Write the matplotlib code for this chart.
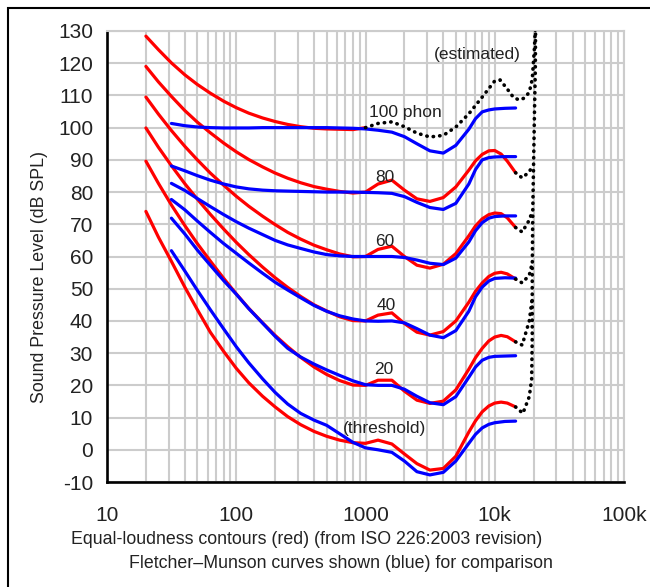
import matplotlib
matplotlib.use("Agg")
import matplotlib.pyplot as plt
from matplotlib.ticker import LogLocator, NullFormatter, FixedLocator
from matplotlib.patches import Rectangle

plt.rcParams['font.family'] = ['Liberation Sans', 'DejaVu Sans']
plt.rcParams['axes.unicode_minus'] = False

# frequencies (Hz)
iso_freq = [20, 25, 31.5, 40, 50, 63, 80, 100, 125, 160, 200, 250, 315, 400, 500,
            630, 800, 1000, 1250, 1600, 2000, 2500, 3150, 4000, 5000, 6300, 7100, 8000,
            9000, 10000, 11200, 12500, 14500]
fm_freq = [31.5, 40, 50, 63, 80, 100, 125, 160, 200, 250, 315, 400, 500, 630, 800,
           1000, 1250, 1600, 2000, 2500, 3150, 4000, 5000, 6300, 7100, 8000, 9000, 10000,
           12000, 14500]

# equal-loudness contours (red), dB SPL
red_0 = [74.0, 66.0, 58.5, 50.5, 43.5, 36.5, 30.5, 25.3, 20.8, 16.6, 13.3, 10.3, 7.8, 5.7,
         4.2, 3.0, 2.2, 2.0, 3.0, 1.8, -1.3, -4.3, -6.3, -5.8, -2.0, 5.5, 9.0, 11.8,
         13.6, 14.5, 14.8, 14.5, 13.3]
red_20 = [89.6, 82.7, 76.0, 69.6, 64.0, 58.6, 53.2, 48.4, 43.9, 39.4, 35.5, 32.0, 28.7, 25.7,
          23.4, 21.5, 20.1, 20.0, 21.6, 21.6, 18.2, 15.4, 14.4, 15.1, 18.6, 25.0, 28.6, 31.5,
          33.8, 35.0, 35.5, 35.1, 33.5]
red_40 = [99.9, 93.9, 88.2, 82.6, 77.8, 73.1, 68.5, 64.4, 60.6, 56.7, 53.4, 50.4, 47.6, 45.0,
          43.1, 41.3, 40.1, 40.0, 41.8, 42.5, 39.2, 36.5, 35.6, 36.7, 40.0, 45.8, 49.2, 51.8,
          53.8, 54.8, 55.1, 54.6, 53.0]
red_60 = [109.5, 104.2, 99.1, 94.2, 90.0, 85.9, 82.1, 78.7, 75.6, 72.5, 69.9, 67.5, 65.4, 63.5,
          62.1, 60.8, 59.9, 60.0, 62.2, 63.2, 60.0, 57.3, 56.4, 57.6, 60.9, 66.4, 69.5, 71.7,
          73.0, 73.5, 73.3, 72.0, 69.0]
red_80 = [119.0, 114.2, 109.7, 105.3, 101.7, 98.4, 95.2, 92.5, 90.1, 87.8, 85.9, 84.3, 82.9, 81.7,
          80.9, 80.2, 79.7, 80.0, 82.5, 83.7, 80.6, 77.9, 77.1, 78.3, 81.6, 86.8, 89.7, 91.7,
          92.8, 92.9, 91.8, 89.6, 86.0]
red_100 = [128.4, 124.2, 120.1, 116.4, 113.4, 110.7, 108.2, 106.2, 104.5, 103.0, 101.9, 101.0,
           100.3, 99.8, 99.6, 99.5, 99.4, 100.0]

# Fletcher-Munson curves (blue), dB SPL
blue_0 = [61.8, 55.5, 49.5, 43.5, 37.5, 32.0, 27.0, 22.0, 17.8, 14.2, 11.3, 9.2, 7.6, 5.0, 2.3,
          0.6, 0.0, -0.8, -3.5, -6.8, -7.8, -7.0, -3.5, 2.0, 4.8, 6.8, 7.9, 8.4, 8.8, 8.9]
blue_20 = [71.9, 67.0, 62.0, 57.3, 52.5, 48.3, 43.8, 39.3, 35.2, 31.5, 28.8, 26.6, 24.8, 23.1,
           21.4, 20.2, 20.0, 20.0, 18.8, 16.6, 14.6, 14.0, 16.5, 22.5, 25.7, 27.8, 28.7, 29.0,
           29.1, 29.2]
blue_40 = [77.7, 74.5, 71.0, 67.5, 64.0, 61.0, 58.0, 54.8, 52.0, 49.6, 47.2, 44.8, 43.0, 41.6,
           40.6, 40.0, 39.9, 40.0, 39.4, 37.6, 35.6, 34.8, 37.0, 43.0, 47.5, 50.5, 52.4, 53.2,
           53.4, 53.3]
blue_60 = [82.7, 80.5, 78.0, 75.5, 73.0, 70.8, 68.8, 66.8, 65.0, 63.6, 62.5, 61.4, 60.6, 60.2,
           60.0, 60.0, 60.0, 60.0, 59.7, 58.9, 57.9, 57.5, 59.5, 64.5, 68.0, 70.5, 71.9, 72.4,
           72.6, 72.6]
blue_80 = [88.1, 86.6, 85.1, 83.7, 82.5, 81.6, 81.0, 80.6, 80.4, 80.3, 80.2, 80.1, 80.0, 80.0,
           80.0, 79.9, 79.8, 79.6, 78.6, 76.8, 75.2, 74.6, 76.5, 82.5, 87.0, 90.0, 90.7, 90.9,
           91.0, 91.0]
blue_100 = [101.3, 100.6, 100.2, 100.0, 99.9, 99.9, 99.9, 100.0, 100.0, 100.0, 100.0, 100.0,
            100.0, 99.9, 99.8, 99.6, 99.2, 98.6, 97.2, 95.0, 92.8, 92.1, 94.5, 99.5, 102.8,
            104.9, 105.5, 105.8, 106.0, 106.1]

# estimated parts (black dotted)
est_freq = [1000, 1250, 1600, 2000, 2500, 3150, 4000, 5000, 6300, 8000, 10000, 11000, 12500,
            14000, 15500, 17000, 18500, 19500, 20300, 20600]
est_spl = [100.0, 101.3, 101.8, 100.3, 98.3, 97.1, 97.6, 100.2, 104.3, 109.5, 114.5, 114.8,
           112.0, 109.3, 108.6, 109.2, 111.0, 115.0, 125.0, 131.0]
edge_freq = [14500, 16500, 18500, 19300, 19500, 19500, 19700, 20000, 20300, 20600, 20700]
edge_spl = [13.3, 11.3, 16.5, 22.0, 35.0, 55.0, 75.0, 90.0, 105.0, 118.0, 131.0]
link_freq = [14500, 16300, 18500, 19500]
link_20 = [33.5, 32.5, 40.0, 47.0]
link_40 = [53.0, 51.8, 54.2, 58.0]
link_60 = [69.0, 67.6, 71.3, 74.0]
link_80 = [86.0, 84.4, 86.3, 88.0]

labels = [("100 phon", 405, 112), ("80", 385, 177), ("60", 385, 241), ("40", 386, 305),
          ("20", 384, 370), ("(threshold)", 385, 428), ("(estimated)", 477, 55)]

W, H = 650, 587
fig = plt.figure(figsize=(6.5, 5.87), dpi=100)
ax = fig.add_axes([107 / W, 1 - 482 / H, (624 - 107) / W, (482 - 31) / H])

for c in [red_0, red_20, red_40, red_60, red_80]:
    ax.plot(iso_freq, c, color='#ff0000', lw=2.3, solid_joinstyle='round',
            solid_capstyle='round', zorder=3)
ax.plot(iso_freq[:len(red_100)], red_100, color='#ff0000', lw=2.3,
        solid_joinstyle='round', solid_capstyle='round', zorder=3)

for c in [blue_0, blue_20, blue_40, blue_60, blue_80, blue_100]:
    ax.plot(fm_freq, c, color='#0000ff', lw=2.3, solid_joinstyle='round',
            solid_capstyle='round', zorder=4)

dot = dict(color='black', lw=2.6, linestyle=(0, (0.1, 1.7)), dash_capstyle='round', zorder=5)
ax.plot(est_freq, est_spl, **dot)
ax.plot(edge_freq, edge_spl, **dot)
for c in [link_20, link_40, link_60, link_80]:
    ax.plot(link_freq, c, **dot)

ax.set_xscale('log')
ax.set_xlim(10, 100000)
ax.set_ylim(-10, 130)
ax.set_yticks(range(-10, 131, 10))
ax.xaxis.set_major_locator(FixedLocator([10, 100, 1000, 10000, 100000]))
ax.set_xticklabels(['10', '100', '1000', '10k', '100k'])
ax.xaxis.set_minor_locator(LogLocator(base=10, subs=range(2, 10)))
ax.xaxis.set_minor_formatter(NullFormatter())
ax.grid(True, which='both', color='#cccccc', lw=1.5, zorder=0)
ax.set_axisbelow(True)
ax.tick_params(which='both', length=0)
ax.tick_params(axis='y', pad=10, labelsize=15, labelcolor='#222222')
ax.tick_params(axis='x', pad=17, labelsize=15, labelcolor='#222222')
for s in ['left', 'bottom']:
    ax.spines[s].set_linewidth(1.9)
    ax.spines[s].set_color('black')
for s in ['top', 'right']:
    ax.spines[s].set_color('#cccccc')
    ax.spines[s].set_linewidth(1.5)

for txt, px, py in labels:
    fig.text(px / W, 1 - py / H, txt, ha='center', va='center', fontsize=12.5, color='#222222')

fig.text(40 / W, 1 - 277 / H, 'Sound Pressure Level (dB SPL)', rotation=90,
         ha='center', va='center', fontsize=12.8, color='#222222')
fig.text(307 / W, 1 - 540 / H, 'Equal-loudness contours (red) (from ISO 226:2003 revision)',
         ha='center', va='center', fontsize=12.8, color='#222222')
fig.text(341 / W, 1 - 563 / H, 'Fletcher\u2013Munson curves shown (blue) for comparison',
         ha='center', va='center', fontsize=12.8, color='#222222')

fig.patches.append(Rectangle((8 / W, -0.2), 2, 1.2 - 8 / H, transform=fig.transFigure,
                             fill=False, ec='black', lw=1.5))

fig.savefig('out.png', dpi=100)
